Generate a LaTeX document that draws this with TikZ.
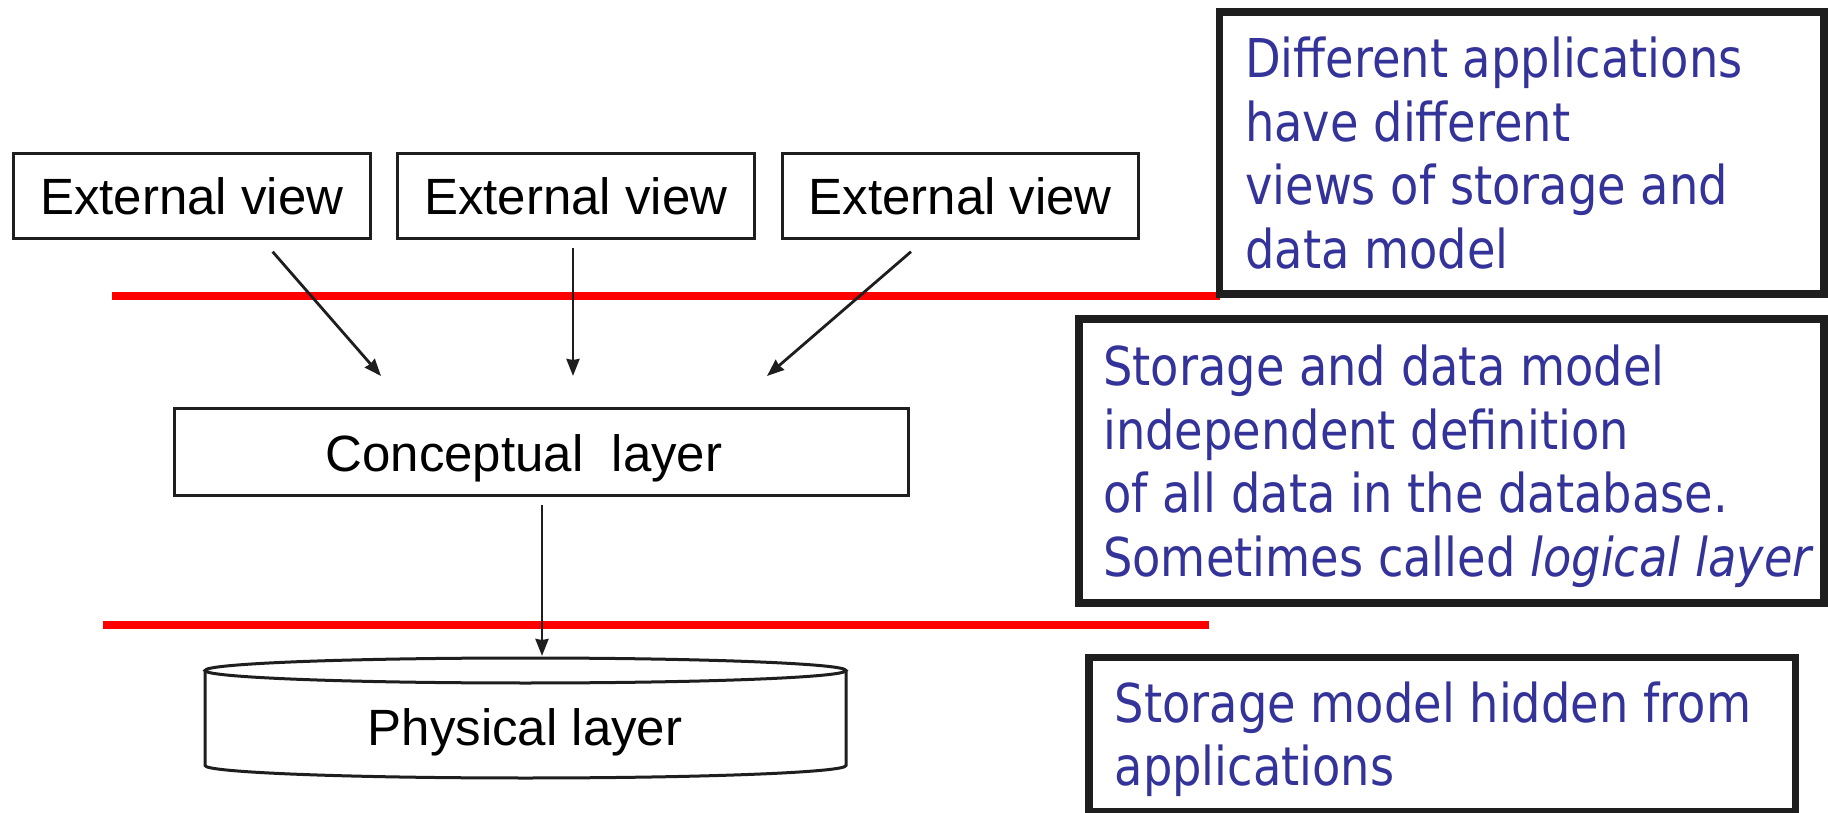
\documentclass[tikz,border=0pt]{standalone}
\usepackage{fontspec}
\setmainfont{Liberation Sans}
\newfontfamily\notefont[FakeStretch=0.866]{DejaVu Sans}
\usetikzlibrary{arrows.meta}
\definecolor{noteblue}{RGB}{51,51,153}
\definecolor{boxline}{RGB}{30,30,30}
\definecolor{layerred}{RGB}{255,0,0}
\tikzset{
  x=1pt, y=1pt,
  viewbox/.style={draw=boxline, line width=3pt, inner sep=0pt,
    minimum width=356.5pt, minimum height=85pt,
    font=\fontsize{51}{60}\selectfont},
  notebox/.style={draw=boxline, line width=7.7pt, inner sep=0pt},
  notetext/.style={anchor=base west, inner sep=0pt, text=noteblue},
  boundary/.style={draw=layerred, line width=8pt},
  flow/.style={draw=boxline, line width=2.8pt,
    -{Stealth[length=17pt, width=13pt, inset=1pt]}},
  labeltext/.style={anchor=base, inner sep=0pt, font=\fontsize{51}{60}\selectfont}
}
\newcommand{\notepar}[1]{\parbox[t]{780pt}{\raggedright\notefont\fontsize{53.5}{63.5}\selectfont #1}}
\begin{document}
\begin{tikzpicture}
\fill[white] (0,0) rectangle (1828,812);
\useasboundingbox (0,0) rectangle (1828,812);

% boundaries between the layers
\coordinate (r1a) at (112,515.5);
\coordinate (r1b) at (1220,515.5);
\coordinate (r2a) at (103,187);
\coordinate (r2b) at (1209,187);
\draw[boundary] (r1a) -- (r1b);
\draw[boundary] (r2a) -- (r2b);

% external views
\node[viewbox] (ev1) at (191.75,616) {External view};
\node[viewbox] (ev2) at (575.85,616) {External view};
\node[viewbox] (ev3) at (960.25,616) {External view};

% conceptual layer
\node[draw=boxline, line width=3pt, inner sep=0pt,
      minimum width=734pt, minimum height=87pt] (concept) at (541.5,360) {};
\node[labeltext] (concepttext) at (524,340) {Conceptual\ \ layer};

% physical layer as a flat cylinder
\node[inner sep=0pt, minimum width=641pt, minimum height=120pt] (phys) at (525.5,94) {};
\draw[boxline, line width=3pt, fill=white]
  (205,141.5) -- (205,46.5) arc[start angle=180, end angle=360, x radius=320.5pt, y radius=12.5pt]
  -- (846,141.5);
\draw[boxline, line width=3pt] (525.5,141.5) ellipse[x radius=320.5pt, y radius=12.5pt];
\node[labeltext] (phystext) at (525,67) {Physical layer};

% mappings between layers
\coordinate (a1s) at (272.6,560.3);
\coordinate (a1e) at (381,436);
\coordinate (a2s) at (573,564);
\coordinate (a2e) at (573,436);
\coordinate (a3s) at (911,560.3);
\coordinate (a3e) at (767,436);
\coordinate (a4s) at (542,307);
\coordinate (a4e) at (542,156);
\draw[flow] (a1s) -- (a1e);
\draw[flow] (a2s) -- (a2e);
\draw[flow] (a3s) -- (a3e);
\draw[flow] (a4s) -- (a4e);

% notes
\node[notebox, minimum width=604.7pt, minimum height=282.5pt] (noteA) at (1521.85,659.05) {};
\node[notebox, minimum width=745.3pt, minimum height=283.9pt] (noteB) at (1451.55,351.15) {};
\node[notebox, minimum width=706.5pt, minimum height=154.6pt] (noteC) at (1442.25,77.3) {};

\node[notetext] (noteAtext) at (1245,734.3) {\notepar{Different applications\\have different\\views of storage and\\data model}};
\node[notetext] (noteBtext) at (1103,426) {\notepar{Storage and data model\\independent definition\\of all data in the database.\\Sometimes called \textit{logical layer}}};
\node[notetext] (noteCtext) at (1114.5,89.6) {\notepar{Storage model hidden from\\applications}};
\end{tikzpicture}
\end{document}
